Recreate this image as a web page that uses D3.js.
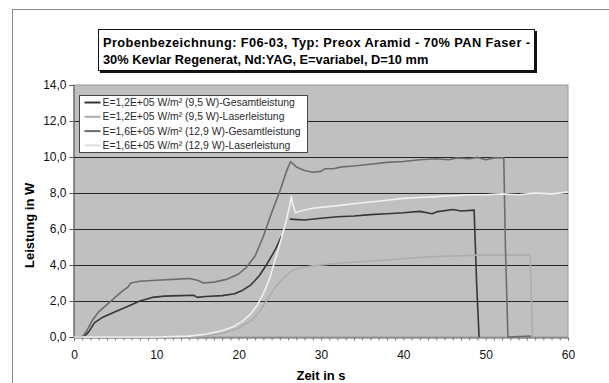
<!DOCTYPE html>
<html>
<head>
<meta charset="utf-8">
<script src="https://cdn.jsdelivr.net/npm/d3@7"></script>
<style>
  body { margin: 0; background: #fff; }
  svg { display: block; font-family: "Liberation Sans", Arial, sans-serif; }
</style>
</head>
<body>
<svg id="chart"></svg>
<script>
const width = 609;
const height = 383;

// Titel
const titleLines = [
  "Probenbezeichnung: F06-03, Typ: Preox Aramid - 70% PAN Faser -",
  "30% Kevlar Regenerat, Nd:YAG, E=variabel, D=10 mm"
];

const seriesNames = [
  "E=1,2E+05 W/m² (9,5 W)-Gesamtleistung",
  "E=1,2E+05 W/m² (9,5 W)-Laserleistung",
  "E=1,6E+05 W/m² (12,9 W)-Gesamtleistung",
  "E=1,6E+05 W/m² (12,9 W)-Laserleistung"
];
const seriesColors = ["#363636", "#adadad", "#6c6c6c", "#f0f0f0"];

const yTicks = [0, 2, 4, 6, 8, 10, 12, 14];
const xTicks = [0, 10, 20, 30, 40, 50, 60];

// Messwerte [Zeit s, Leistung W]; null = Lücke in der Messkurve
const gesamt12 = [[0,0],[1.2,0],[1.8,0.3],[2.5,0.8],[3.5,1.1],[5,1.4],[6.5,1.7],[8,2.0],[9.5,2.2],[11,2.27],[13,2.3],[14.5,2.32],[15,2.2],[16,2.25],[18,2.3],[19.5,2.4],[20.5,2.6],[21.5,2.9],[22.5,3.4],[23.5,4.1],[24.5,4.9],[25.2,5.6],[25.7,null],[26.2,6.55],[28,6.5],[30,6.6],[32,6.68],[34,6.72],[36,6.8],[38,6.85],[40,6.9],[42,6.98],[43.5,6.85],[44,6.95],[46,7.08],[47,7.0],[48.6,7.05],[48.9,3],[49.2,0]];
const laser12 = [[0,0],[15,0],[18,0.2],[20,0.5],[21.5,0.9],[22.5,1.4],[23.5,2.1],[24.5,2.8],[25.5,3.3],[26.5,3.7],[27.5,3.85],[29,3.95],[31,4.05],[34,4.15],[37,4.25],[40,4.35],[43,4.45],[46,4.5],[49,4.55],[52,4.55],[55.4,4.55],[55.7,0]];
const gesamt16 = [[0,0],[1.0,0],[1.5,0.3],[2.2,0.9],[3,1.4],[4,1.8],[5,2.2],[6,2.6],[6.5,2.75],[6.9,3.0],[8,3.1],[10,3.15],[12,3.2],[14,3.25],[15,3.15],[15.7,3.0],[17,3.05],[18.5,3.2],[20,3.5],[21,3.9],[22,4.5],[23,5.6],[24,6.9],[25,8.1],[25.8,9.2],[26.3,9.75],[27,9.45],[28,9.25],[29,9.15],[30,9.2],[30.5,9.35],[31.5,9.35],[32.5,9.45],[34,9.5],[36,9.6],[38,9.7],[40,9.75],[42,9.85],[44,9.9],[45.5,9.85],[46.5,9.95],[48,9.9],[49,9.98],[50,9.85],[51,9.95],[52.2,9.95],[52.4,5],[52.7,0],[55.5,0.05]];
const laser16 = [[0,0],[10,0],[14,0.05],[16,0.15],[18,0.35],[19.5,0.6],[20.5,0.9],[21.5,1.3],[22.3,1.8],[23,2.4],[23.8,3.3],[24.5,4.4],[25.2,5.5],[25.8,6.5],[26.2,7.3],[26.4,7.8],[26.6,7.3],[26.9,6.9],[27.5,7.0],[29,7.15],[30,7.2],[32,7.3],[34,7.4],[36,7.5],[38,7.6],[40,7.7],[42,7.75],[44,7.8],[46,7.85],[48,7.9],[50,7.9],[52,7.95],[54,7.9],[56,8.0],[58,7.95],[60,8.05]];

const series = [gesamt12, laser12, gesamt16, laser16];

const svg = d3.select("#chart").attr("width", width).attr("height", height);

// Rahmen (nur oben/links sichtbar)
svg.append("rect")
  .attr("x", 12.5).attr("y", 9.5)
  .attr("width", 620).attr("height", 400)
  .attr("fill", "#fff").attr("stroke", "#8a8a8a");

const plot = { left: 74, right: 568, top: 85, bottom: 337 };

const x = d3.scaleLinear().domain([0, 60]).range([plot.left, plot.right]);
const y = d3.scaleLinear().domain([0, 14]).range([plot.bottom, plot.top]);

// Plotfläche
svg.append("rect")
  .attr("x", plot.left).attr("y", plot.top)
  .attr("width", plot.right - plot.left).attr("height", plot.bottom - plot.top)
  .attr("fill", "#c0c0c0").attr("stroke", "#9a9a9a");

// Gitterlinien
svg.append("g")
  .selectAll("line")
  .data(yTicks.filter(d => d > 0 && d < 14))
  .join("line")
  .attr("x1", plot.left).attr("x2", plot.right)
  .attr("y1", d => Math.round(y(d)) + 0.5).attr("y2", d => Math.round(y(d)) + 0.5)
  .attr("stroke", "#262626");

// Achsen
const yAxis = svg.append("g")
  .attr("transform", `translate(${plot.left - 0.5},0)`)
  .call(d3.axisLeft(y).tickValues(yTicks).tickSize(4).tickPadding(3)
    .tickFormat(d => d3.format(".1f")(d).replace(".", ",")));
yAxis.select(".domain").attr("stroke", "#555");
yAxis.selectAll(".tick line").attr("stroke", "#555");
yAxis.selectAll("text").attr("font-size", 12).attr("fill", "#111");

const xAxis = svg.append("g")
  .attr("transform", `translate(0,${plot.bottom + 0.5})`)
  .call(d3.axisBottom(x).tickValues(d3.range(0, 61, 1)).tickSize(3).tickFormat(""));
xAxis.select(".domain").attr("stroke", "#555");
xAxis.selectAll(".tick line").attr("stroke", "#777");

svg.append("g")
  .attr("transform", `translate(0,${plot.bottom})`)
  .call(d3.axisBottom(x).tickValues(xTicks).tickSize(0).tickPadding(13))
  .call(g => g.select(".domain").remove())
  .selectAll("text").attr("font-size", 12).attr("fill", "#111");

// Achsentitel
svg.append("text")
  .attr("x", (plot.left + plot.right) / 2).attr("y", 380)
  .attr("text-anchor", "middle")
  .attr("font-size", 13).attr("font-weight", "bold")
  .text("Zeit in s");

svg.append("text")
  .attr("transform", `translate(34,${y(6.2)}) rotate(-90)`)
  .attr("text-anchor", "middle")
  .attr("font-size", 13).attr("font-weight", "bold")
  .text("Leistung in W");

// Kurven
const line = d3.line()
  .defined(d => d[1] !== null)
  .x(d => x(d[0])).y(d => y(d[1]));
svg.append("g")
  .selectAll("path")
  .data(series)
  .join("path")
  .attr("d", line)
  .attr("fill", "none")
  .attr("stroke", (d, i) => seriesColors[i])
  .attr("stroke-width", 1.6)
  .attr("stroke-linejoin", "round");

// Legende
const legend = svg.append("g").attr("transform", "translate(79.5,95.5)");
legend.append("rect")
  .attr("width", 228).attr("height", 57)
  .attr("fill", "#fff").attr("stroke", "#444");
seriesNames.forEach((name, i) => {
  const row = legend.append("g").attr("transform", `translate(0,${7 + i * 14.3})`);
  row.append("line")
    .attr("x1", 5).attr("x2", 21).attr("y1", 0).attr("y2", 0)
    .attr("stroke", seriesColors[i] === "#f0f0f0" ? "#dedede" : seriesColors[i])
    .attr("stroke-width", 2);
  row.append("text")
    .attr("x", 23).attr("y", 3.5)
    .attr("font-size", 10.4).attr("fill", "#2a2a2a")
    .text(name);
});

// Titelbox mit Schatten
svg.append("rect")
  .attr("x", 100).attr("y", 31)
  .attr("width", 437).attr("height", 42)
  .attr("fill", "#111");
svg.append("rect")
  .attr("x", 98.5).attr("y", 29.5)
  .attr("width", 436).attr("height", 41)
  .attr("fill", "#fff").attr("stroke", "#111");
svg.append("g")
  .selectAll("text")
  .data(titleLines)
  .join("text")
  .attr("x", 103)
  .attr("y", (d, i) => 47 + i * 17)
  .attr("font-size", 12.8).attr("font-weight", "bold")
  .attr("textLength", (d, i) => i === 0 ? 427 : null)
  .attr("lengthAdjust", "spacing")
  .text(d => d);
</script>
</body>
</html>
